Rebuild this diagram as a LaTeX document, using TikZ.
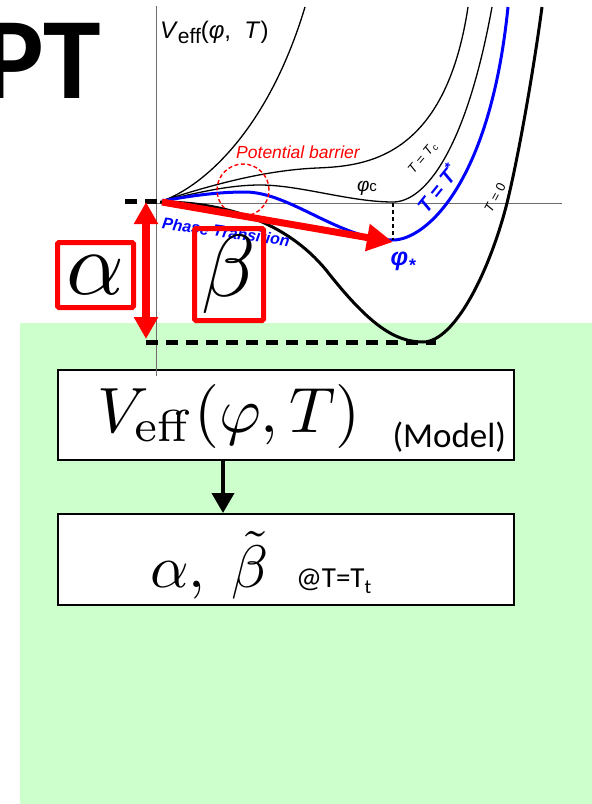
\documentclass[tikz,border=0pt]{standalone}
\usepackage{graphicx}
\usepackage[no-math]{fontspec}
\setmainfont{Liberation Sans}
\newfontfamily\carl{Carlito}
\usetikzlibrary{arrows.meta}
\definecolor{bggreen}{RGB}{204,255,204}
\definecolor{axgray}{RGB}{110,110,110}
\newcommand{\fsz}[1]{\fontsize{#1}{#1}\selectfont}
\tikzset{
  axisline/.style={draw=axgray, line width=0.9pt},
  thincurve/.style={line width=1.3pt},
  thickcurve/.style={line width=3pt},
  bluecurve/.style={draw=blue, line width=3pt},
  redbox/.style={draw=red, line width=5pt, rounded corners=1.5pt},
  flowbox/.style={draw=black, line width=2pt, fill=white},
  bigdash/.style={line width=5pt, dash pattern=on 12pt off 8pt},
  plain/.style={inner sep=0pt, outer sep=0pt},
}
\begin{document}
\begin{tikzpicture}[x=1pt, y=-1pt]
\useasboundingbox (0,0) rectangle (592,804);
% green background
\fill[bggreen] (20,323) rectangle (592,804);
% title fragment
\node[plain, anchor=base east] (title) at (101,98) {\carl\bfseries\fsz{116}PT};
% flow boxes
\node[flowbox, minimum width=456pt, minimum height=90pt, anchor=north west, inner sep=0pt] (model) at (57,369) {};
\node[flowbox, minimum width=456pt, minimum height=91pt, anchor=north west, inner sep=0pt] (result) at (57,513) {};
\node[plain, anchor=base west] (veff) at (97,432) {\scalebox{6.4}{$V_{\mathrm{eff}}(\varphi,T)$}};
\node[plain, anchor=base east] (modeltxt) at (506,447) {\carl\fsz{35}(Model)};
\node[plain, anchor=base west] (ab) at (150,587) {\scalebox{6}{$\alpha,\ \tilde{\beta}$}};
\node[plain, anchor=base west] (attxt) at (296,587) {\carl\fsz{29}@T=T\raisebox{-6pt}{\fsz{20}t}};
\draw[line width=4pt, -{Triangle[length=20pt,width=22pt]}] (model.south -| 223,0) -- (result.north -| 223,0);
% axes
\coordinate (O) at (156,203);
\coordinate (ytop) at (156,6);
\coordinate (ybot) at (156,376);
\coordinate (xend) at (562,203);
\draw[axisline] (ytop) -- (ybot);
\draw[axisline] (O) -- (xend);
% curves
\coordinate (s) at (162,201);
\draw[thincurve] (s) .. controls (195,190) and (265,140) .. (305,7);
\draw[thincurve] (s) .. controls (220,182) and (270,170) .. (317,168)
   .. controls (364,166) and (445,160) .. (468,7);
\draw[thincurve] (s) .. controls (200,192) and (230,185) .. (260,185)
   .. controls (300,185) and (350,202) .. (393,202)
   .. controls (425,202) and (466,150) .. (492,7);
\draw[bluecurve] (s) .. controls (195,195) and (220,192) .. (245,192)
   .. controls (290,192) and (340,240) .. (393,240)
   .. controls (425,240) and (490,185) .. (508,7);
\draw[thickcurve] (160,202) .. controls (230,202) and (292,225) .. (330,275)
   .. controls (370,325) and (395,342) .. (423,342)
   .. controls (455,342) and (490,270) .. (507,203)
   .. controls (520,150) and (535,60) .. (542,7);
% dashed guides
\coordinate (phistar) at (393,240);
\coordinate (phistaraxis) at (393,203);
\draw[line width=1.2pt, dash pattern=on 4pt off 3pt] (phistaraxis) -- (phistar);
\coordinate (dl1) at (125,201);
\coordinate (dl2) at (160,201);
\draw[bigdash] (dl1) -- (dl2);
\coordinate (bl1) at (146,342);
\coordinate (bl2) at (436,342);
\draw[bigdash] (bl1) -- (bl2);
% labels on plot
\node[plain, anchor=base west] (vlabel) at (160,38) {\fsz{24}\textit{V}\raisebox{-5pt}{\fsz{21}eff}(\textit{φ},\ \ \textit{T})};
\node[plain, red] (barrier) at (298,152) {\fsz{17.5}\itshape Potential barrier};
\draw[red, line width=1.4pt, dash pattern=on 4pt off 2.5pt] (243,190) circle[radius=26pt];
\node[plain] (phic) at (367,188) {\fsz{19}\textit{φ}{\fsz{15}c}};
\node[plain, rotate=50] (tc) at (423,158) {\fsz{13}\textit{T} = \textit{T}\textsubscript{c}};
\node[plain, blue, rotate=51] (tstar) at (437,188) {\fsz{20}\bfseries\itshape T = T\textsuperscript{*}};
\node[plain, rotate=62] (t0) at (495,198) {\fsz{13}\textit{T} = 0};
\node[plain, blue, rotate=-8] (phase) at (226,232) {\fsz{16}\bfseries\itshape Phase Transition};
\node[plain, blue] (phistarlab) at (403,262) {\fsz{25}\bfseries\itshape φ\raisebox{-6pt}{\fsz{18}*}};
% red boxes
\node[redbox, minimum width=76pt, minimum height=65pt, anchor=north west] (abox) at (55,240) {};
\node[plain] (alpha) at (abox.center) {\scalebox{9}{$\alpha$}};
\node[redbox, minimum width=69pt, minimum height=92pt, anchor=north west] (bbox) at (192,226) {};
\node[plain] (beta) at (bbox.center) {\scalebox{8.8}{$\beta$}};
% red arrows
\coordinate (ra1) at (162,202);
\coordinate (ra2) at (393,242);
\draw[red, line width=7pt, -{Triangle[length=26pt,width=26pt]}] (ra1) -- (ra2);
\coordinate (da1) at (146,202);
\coordinate (da2) at (146,339);
\draw[red, line width=8pt, {Triangle[length=22pt,width=23pt]}-{Triangle[length=22pt,width=23pt]}] (da1) -- (da2);
\end{tikzpicture}
\end{document}
